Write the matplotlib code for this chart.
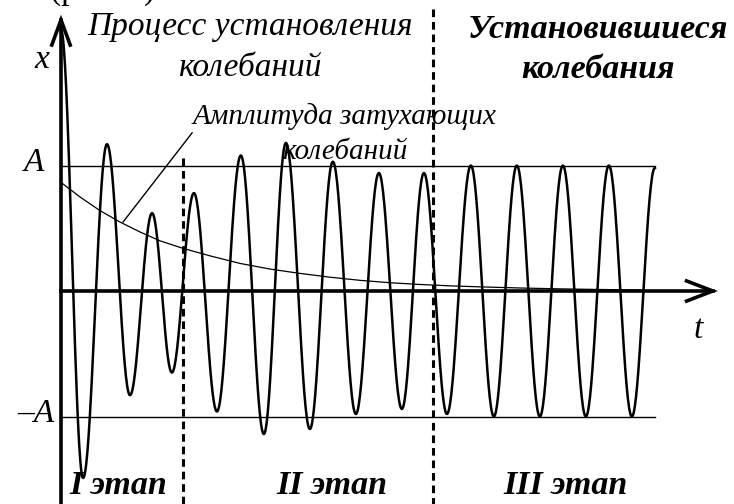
import numpy as np
import matplotlib.pyplot as plt

# extrema of the oscillation x(t): t in periods of the driving force, x in units of A
t_ext = [0.00, 0.48, 1.00, 1.50, 1.98, 2.41, 2.89, 3.39, 3.91, 4.41, 4.89, 5.41, 5.91, 6.41,
         6.91, 7.41, 7.89, 8.39, 8.91, 9.41, 9.91, 10.41, 10.91, 11.41, 11.91, 12.41, 12.91]
x_ext = [2.08, -1.49, 1.17, -0.83, 0.62, -0.65, 0.78, -0.96, 1.08, -1.14, 1.18, -1.10, 1.03, -0.98,
         0.94, -0.94, 0.94, -0.98, 1.00, -1.00, 1.00, -1.00, 1.00, -1.00, 1.00, -1.00, 0.98]

# amplitude of the decaying free oscillations
t_env = [0.02, 0.41, 0.85, 1.28, 1.72, 2.15, 2.65, 3.24, 3.89, 4.54, 5.20, 5.85, 6.50,
         7.15, 7.80, 8.46, 9.11, 9.98, 10.85, 11.72, 12.59]
x_env = [0.86, 0.75, 0.64, 0.55, 0.47, 0.40, 0.34, 0.28, 0.22, 0.175, 0.14, 0.11, 0.085,
         0.066, 0.052, 0.041, 0.033, 0.024, 0.017, 0.012, 0.008]

# borders between the stages
t_stage = [2.65, 8.09]

W, H = 734, 504
def fp(x, y):
    # pixel -> figure fraction
    return x / W, 1 - y / H

fig = plt.figure(figsize=(W / 100, H / 100), dpi=100)
ax = fig.add_axes([0, 0, 1, 1])
ax.set_xlim(-61 / 46, (W - 61) / 46)
ax.set_ylim((291 - H) / 125.5, 291 / 125.5)
ax.axis('off')

# oscillation drawn as half-waves between the extrema
tt, xx = [], []
for i in range(len(t_ext) - 1):
    s = np.linspace(0, 1, 40)
    tt.append(t_ext[i] + (t_ext[i + 1] - t_ext[i]) * s)
    xx.append(x_ext[i] + (x_ext[i + 1] - x_ext[i]) * (1 - np.cos(np.pi * s)) / 2)
ax.plot(np.concatenate(tt), np.concatenate(xx), color='black', lw=1.8, zorder=4)

ax.plot(t_env, x_env, color='black', lw=0.9, zorder=3)

# A and -A levels
t_end = t_ext[-1]
ax.plot([0, t_end], [1, 1], color='black', lw=1.0)
ax.plot([0, t_end], [-1, -1], color='black', lw=1.0)

# axes with open arrow heads
ybot = (291 - H) / 125.5
ax.plot([0, 0], [ybot, 2.16], color='black', lw=2.6, zorder=5)
ax.plot([-0.2, 0, 0.2], [1.96, 2.16, 1.96], color='black', lw=2.6, zorder=5, solid_joinstyle='miter')
ax.plot([0, 14.17], [0, 0], color='black', lw=2.6, zorder=5)
ax.plot([13.6, 14.17, 13.6], [0.08, 0, -0.08], color='black', lw=2.6, zorder=5, solid_joinstyle='miter')

# stage borders
ax.plot([t_stage[0], t_stage[0]], [1.06, ybot], color='black', lw=2.2, ls=(0, (2.5, 1.6)), zorder=6)
ax.plot([t_stage[1], t_stage[1]], [2.25, ybot], color='black', lw=2.2, ls=(0, (2.5, 1.6)), zorder=6)

# pointer to the envelope
ax.plot([1.35, 2.85], [0.55, 1.26], color='black', lw=1.0)

serif = 'Liberation Serif'
it = dict(family=serif, style='italic', color='black')
bi = dict(family=serif, style='italic', weight='bold', color='black')

fig.text(*fp(103, -1), '(рис. 1)', ha='center', va='baseline', fontsize=24, family=serif, color='black')
fig.text(*fp(250, 27), 'Процесс установления', ha='center', va='center', fontsize=24, **it)
fig.text(*fp(250, 68), 'колебаний', ha='center', va='center', fontsize=24, **it)
fig.text(*fp(598, 30), 'Установившиеся', ha='center', va='center', fontsize=24.5, **bi)
fig.text(*fp(598, 70), 'колебания', ha='center', va='center', fontsize=24.5, **bi)
fig.text(*fp(345, 117), 'Амплитуда затухающих', ha='center', va='center', fontsize=21, **it)
fig.text(*fp(345, 152), 'колебаний', ha='center', va='center', fontsize=21, **it)
fig.text(*fp(42, 60), 'x', ha='center', va='center', fontsize=24, **it)
fig.text(*fp(34, 163), 'A', ha='center', va='center', fontsize=24, **it)
fig.text(*fp(36, 414), '\u2013A', ha='center', va='center', fontsize=24, **it)
fig.text(*fp(698, 330), 't', ha='center', va='center', fontsize=24, **it)
fig.text(*fp(118, 486), 'I этап', ha='center', va='center', fontsize=24.5, **bi)
fig.text(*fp(332, 486), 'II этап', ha='center', va='center', fontsize=24.5, **bi)
fig.text(*fp(565, 486), 'III этап', ha='center', va='center', fontsize=24.5, **bi)

fig.savefig('out.png', dpi=100)
